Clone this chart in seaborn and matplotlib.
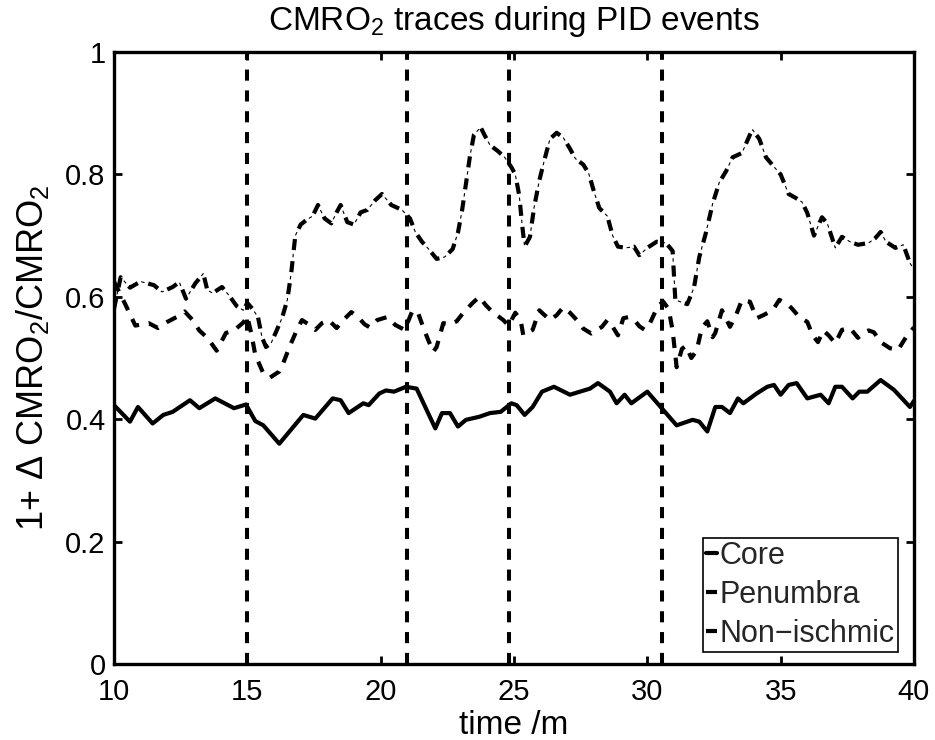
import numpy as np
import pandas as pd
import matplotlib
matplotlib.use("Agg")
import matplotlib.pyplot as plt
import seaborn as sns

# traces (time in minutes, 1 + dCMRO2/CMRO2)
core_t = [10.0, 10.6, 10.9, 11.45, 11.85, 12.2, 12.85, 13.2, 13.8, 14.5, 14.95, 15.3, 15.6, 16.2,
          17.1, 17.55, 18.2, 18.5, 18.8, 19.35, 19.55, 19.95, 20.2, 20.5, 20.95, 21.35, 22.05, 22.3,
          22.6, 22.9, 23.2, 23.7, 24.1, 24.5, 24.9, 25.1, 25.4, 25.7, 26.05, 26.5, 27.1, 27.85, 28.15,
          28.6, 28.85, 29.15, 29.4, 30.0, 30.6, 31.1, 31.7, 31.95, 32.25, 32.55, 32.8, 33.1, 33.4,
          33.6, 34.1, 34.5, 34.75, 35.0, 35.3, 35.6, 36.0, 36.5, 36.8, 37.05, 37.3, 37.7, 37.95,
          38.25, 38.75, 39.25, 39.85, 40.0]
core_y = [0.423, 0.396, 0.42, 0.393, 0.407, 0.412, 0.431, 0.418, 0.434, 0.418, 0.424, 0.397, 0.39,
          0.36, 0.407, 0.401, 0.434, 0.431, 0.41, 0.426, 0.423, 0.442, 0.447, 0.445, 0.453, 0.45,
          0.385, 0.41, 0.41, 0.388, 0.399, 0.404, 0.41, 0.412, 0.426, 0.423, 0.407, 0.42, 0.445,
          0.453, 0.44, 0.45, 0.459, 0.445, 0.426, 0.44, 0.426, 0.445, 0.415, 0.39, 0.399, 0.396,
          0.38, 0.42, 0.42, 0.41, 0.434, 0.426, 0.442, 0.453, 0.456, 0.44, 0.456, 0.459, 0.434,
          0.44, 0.426, 0.453, 0.453, 0.434, 0.445, 0.445, 0.464, 0.448, 0.42, 0.43]

pen_t = [10.0, 10.4, 10.8, 11.3, 11.65, 12.0, 12.35, 12.65, 12.95, 13.2, 13.5, 13.85, 14.2, 14.5,
         14.85, 15.0, 15.15, 15.3, 15.6, 15.85, 16.2, 16.35, 16.6, 16.85, 17.05, 17.3, 17.55, 17.8,
         18.05, 18.35, 18.6, 18.9, 19.15, 19.4, 19.6, 19.87, 20.25, 20.55, 20.9, 21.2, 21.4, 21.6,
         21.75, 21.97, 22.1, 22.35, 22.6, 22.85, 23.1, 23.45, 23.7, 23.95, 24.2, 24.6, 24.8, 25.05,
         25.25, 25.35, 25.7, 25.95, 26.35, 26.6, 26.85, 27.1, 27.4, 27.6, 27.9, 28.3, 28.5, 28.7,
         28.9, 29.1, 29.3, 29.55, 29.7, 29.9, 30.1, 30.4, 30.6, 30.8, 30.95, 31.1, 31.3, 31.45,
         31.65, 31.85, 32.05, 32.25, 32.45, 32.55, 32.8, 33.1, 33.3, 33.55, 33.85, 34.1, 34.35,
         34.7, 34.95, 35.2, 35.4, 35.7, 36.0, 36.2, 36.4, 36.6, 36.8, 37.05, 37.3, 37.6, 37.9,
         38.1, 38.3, 38.5, 38.75, 39.1, 39.4, 39.7, 40.0]
pen_y = [0.625, 0.59, 0.553, 0.557, 0.549, 0.559, 0.567, 0.576, 0.562, 0.545, 0.533, 0.512, 0.541,
         0.545, 0.558, 0.568, 0.54, 0.505, 0.475, 0.468, 0.478, 0.492, 0.52, 0.545, 0.562, 0.555,
         0.546, 0.557, 0.562, 0.549, 0.562, 0.575, 0.567, 0.555, 0.55, 0.562, 0.567, 0.554, 0.546,
         0.578, 0.574, 0.55, 0.533, 0.51, 0.518, 0.557, 0.555, 0.56, 0.574, 0.59, 0.6, 0.586,
         0.575, 0.562, 0.553, 0.574, 0.562, 0.537, 0.546, 0.578, 0.562, 0.57, 0.583, 0.574, 0.56,
         0.548, 0.54, 0.551, 0.562, 0.551, 0.537, 0.565, 0.567, 0.56, 0.552, 0.546, 0.557, 0.585,
         0.592, 0.58, 0.545, 0.485, 0.515, 0.52, 0.5, 0.512, 0.55, 0.56, 0.534, 0.541, 0.578,
         0.551, 0.567, 0.595, 0.592, 0.565, 0.57, 0.578, 0.595, 0.59, 0.582, 0.567, 0.559, 0.537,
         0.526, 0.545, 0.537, 0.524, 0.546, 0.549, 0.533, 0.541, 0.545, 0.542, 0.526, 0.516,
         0.513, 0.534, 0.55]

non_t = [10.0, 10.25, 10.6, 11.0, 11.5, 11.8, 12.2, 12.45, 12.7, 13.05, 13.35, 13.5, 13.7, 14.05,
         14.3, 14.6, 14.85, 15.0, 15.2, 15.4, 15.55, 15.7, 15.9, 16.1, 16.3, 16.5, 16.65, 16.8,
         17.0, 17.2, 17.45, 17.65, 17.9, 18.15, 18.35, 18.5, 18.75, 19.0, 19.25, 19.5, 19.8,
         20.05, 20.4, 20.8, 21.1, 21.3, 21.55, 21.8, 22.1, 22.4, 22.7, 22.9, 23.05, 23.2, 23.35,
         23.5, 23.75, 23.9, 24.1, 24.4, 24.65, 24.9, 25.05, 25.2, 25.3, 25.4, 25.6, 25.75, 25.95,
         26.15, 26.35, 26.6, 26.85, 27.1, 27.3, 27.6, 27.8, 28.0, 28.2, 28.5, 28.7, 28.9, 29.2,
         29.5, 29.7, 30.0, 30.35, 30.7, 30.95, 31.05, 31.35, 31.5, 31.75, 31.95, 32.2, 32.45,
         32.7, 32.95, 33.2, 33.55, 33.85, 33.95, 34.2, 34.45, 34.7, 35.0, 35.3, 35.55, 35.8, 36.0,
         36.25, 36.55, 36.75, 37.05, 37.3, 37.6, 37.9, 38.3, 38.55, 38.75, 38.95, 39.3, 39.6,
         39.85, 40.0]
non_y = [0.58, 0.632, 0.615, 0.625, 0.619, 0.608, 0.616, 0.624, 0.597, 0.622, 0.638, 0.611, 0.606,
         0.616, 0.603, 0.585, 0.578, 0.59, 0.58, 0.567, 0.534, 0.518, 0.525, 0.545, 0.565, 0.595,
         0.64, 0.7, 0.718, 0.725, 0.732, 0.75, 0.728, 0.72, 0.738, 0.75, 0.722, 0.718, 0.738,
         0.742, 0.758, 0.768, 0.75, 0.742, 0.728, 0.706, 0.69, 0.678, 0.662, 0.665, 0.678, 0.705,
         0.74, 0.785, 0.83, 0.865, 0.877, 0.864, 0.848, 0.838, 0.828, 0.812, 0.8, 0.765, 0.72,
         0.682, 0.698, 0.745, 0.79, 0.825, 0.858, 0.868, 0.86, 0.842, 0.826, 0.816, 0.802, 0.772,
         0.745, 0.732, 0.7, 0.682, 0.68, 0.682, 0.668, 0.68, 0.69, 0.688, 0.675, 0.595, 0.59,
         0.588, 0.615, 0.665, 0.705, 0.752, 0.787, 0.805, 0.828, 0.835, 0.865, 0.873, 0.858,
         0.828, 0.815, 0.8, 0.768, 0.762, 0.755, 0.737, 0.7, 0.73, 0.72, 0.68, 0.698, 0.69,
         0.685, 0.688, 0.696, 0.706, 0.69, 0.68, 0.685, 0.655, 0.645]

event_times = [15.0, 21.0, 24.8, 30.55]
region_labels = ["Core", "Penumbra", "Non\u2212ischmic"]
x_ticks = [10, 15, 20, 25, 30, 35, 40]
y_ticks = [0, 0.2, 0.4, 0.6, 0.8, 1]
y_tick_labels = ["0", "0.2", "0.4", "0.6", "0.8", "1"]

sns.set_theme(style="ticks")
plt.rcParams["font.family"] = ["Liberation Sans", "DejaVu Sans"]
plt.rcParams["mathtext.fontset"] = "custom"
plt.rcParams["mathtext.rm"] = "Liberation Sans"
plt.rcParams["mathtext.it"] = "Liberation Sans:italic"
plt.rcParams["lines.scale_dashes"] = False

fs = 21
label_fs = 24
lw = 3.0

fig = plt.figure(figsize=(9.35, 7.4), dpi=100)
ax = fig.add_axes([0.1219, 0.1027, 0.8556, 0.827])

# event markers
for t in event_times:
    ax.axvline(t, color="black", lw=2.9, linestyle=(0, (8, 7)), zorder=1)

sns.lineplot(x=core_t, y=core_y, color="black", lw=lw, ax=ax, estimator=None, sort=False)
sns.lineplot(x=pen_t, y=pen_y, color="black", lw=lw, linestyle=(0, (8, 7)),
             ax=ax, estimator=None, sort=False)
# dash-dot: thick dashes plus thin dots in the gaps
sns.lineplot(x=non_t, y=non_y, color="black", lw=lw, linestyle=(0, (8, 8)),
             ax=ax, estimator=None, sort=False)
sns.lineplot(x=non_t, y=non_y, color="black", lw=0.8, linestyle=(5.25, (2.5, 13.5)),
             ax=ax, estimator=None, sort=False)

lines = ax.get_lines()[len(event_times):]
handles = [lines[0], lines[1], (lines[2], lines[3])]
leg = ax.legend(handles, region_labels, loc="lower right", bbox_to_anchor=(0.98, 0.0196),
                borderaxespad=0, fontsize=22, handlelength=0.35, handletextpad=0.1,
                borderpad=0.1, labelspacing=0.3, fancybox=False, framealpha=1,
                edgecolor="black")
leg.get_frame().set_linewidth(1.2)

ax.set_xlim(10, 40)
ax.set_ylim(0, 1)
ax.set_xticks(x_ticks)
ax.set_yticks(y_ticks)
ax.set_yticklabels(y_tick_labels)
ax.tick_params(direction="in", length=6, width=2, labelsize=fs, top=True, right=True,
               color="black", labelcolor="black")
ax.tick_params(axis="x", pad=10)
ax.tick_params(axis="y", pad=6)
for side in ["left", "right", "top", "bottom"]:
    ax.spines[side].set_visible(True)
    ax.spines[side].set_linewidth(2.4)
    ax.spines[side].set_color("black")

ax.set_title("CMRO$_2$ traces during PID events", fontsize=label_fs, pad=16, color="black")
ax.set_xlabel("time /m", fontsize=label_fs, labelpad=3, color="black")
ax.set_ylabel("1+ \u0394 CMRO$_2$/CMRO$_2$", fontsize=26, labelpad=10, color="black")

fig.savefig("out.png", dpi=100)
